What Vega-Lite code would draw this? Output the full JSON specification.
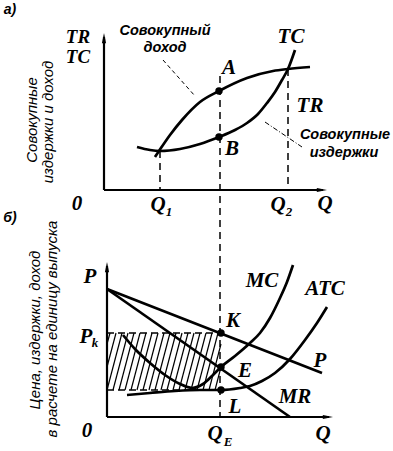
{
 "$schema": "https://vega.github.io/schema/vega-lite/v6.json",
 "width": 393, "height": 451, "padding": 0,
 "autosize": {"type": "fit", "contains": "padding"},
 "background": "white",
 "config": {"view": {"stroke": null}},
 "datasets": {
  "curves": [
   {"id":"TR","x":155,"y":157},{"id":"TR","x":159,"y":151},{"id":"TR","x":170,"y":135},{"id":"TR","x":182,"y":120},{"id":"TR","x":200,"y":102},{"id":"TR","x":219,"y":91},{"id":"TR","x":247,"y":78},{"id":"TR","x":273,"y":71},{"id":"TR","x":288,"y":69},{"id":"TR","x":310,"y":67},
   {"id":"TC","x":137,"y":147},{"id":"TC","x":150,"y":150},{"id":"TC","x":160,"y":151},{"id":"TC","x":180,"y":149},{"id":"TC","x":200,"y":144},{"id":"TC","x":219,"y":137},{"id":"TC","x":235,"y":130},{"id":"TC","x":247,"y":123},{"id":"TC","x":258,"y":114},{"id":"TC","x":267,"y":103},{"id":"TC","x":275,"y":92},{"id":"TC","x":282,"y":80},{"id":"TC","x":288,"y":69},{"id":"TC","x":295,"y":50},
   {"id":"P","x":107,"y":289},{"id":"P","x":322,"y":373},
   {"id":"MR","x":107,"y":289},{"id":"MR","x":290,"y":417},
   {"id":"MC","x":123,"y":335},{"id":"MC","x":135,"y":349},{"id":"MC","x":150,"y":363},{"id":"MC","x":165,"y":375},{"id":"MC","x":180,"y":384},{"id":"MC","x":192,"y":388},{"id":"MC","x":203,"y":384},{"id":"MC","x":212,"y":376},{"id":"MC","x":221,"y":367},{"id":"MC","x":235,"y":356},{"id":"MC","x":250,"y":343},{"id":"MC","x":260,"y":333},{"id":"MC","x":270,"y":318},{"id":"MC","x":280,"y":298},{"id":"MC","x":287,"y":282},{"id":"MC","x":293,"y":265},
   {"id":"ATC","x":127,"y":395},{"id":"ATC","x":150,"y":393},{"id":"ATC","x":175,"y":391},{"id":"ATC","x":200,"y":390},{"id":"ATC","x":221,"y":390},{"id":"ATC","x":240,"y":388},{"id":"ATC","x":250,"y":386},{"id":"ATC","x":262,"y":381},{"id":"ATC","x":275,"y":373},{"id":"ATC","x":290,"y":359},{"id":"ATC","x":305,"y":340},{"id":"ATC","x":317,"y":323},{"id":"ATC","x":327,"y":307}
  ],
  "segs": [
   {"kind":"axis","x":104,"y":37,"x2":104,"y2":190},
   {"kind":"axis","x":104,"y":190,"x2":323,"y2":190},
   {"kind":"axis","x":107,"y":266,"x2":107,"y2":417},
   {"kind":"axis","x":107,"y":417,"x2":329,"y2":417},
   {"kind":"guide","x":160,"y":151,"x2":160,"y2":190},
   {"kind":"guide","x":288,"y":69,"x2":288,"y2":190},
   {"kind":"guide","x":220,"y":76,"x2":220,"y2":417},
   {"kind":"edge","x":107,"y":333,"x2":221,"y2":333},
   {"kind":"edge","x":107,"y":390,"x2":221,"y2":390},
   {"kind":"leader1","x":163,"y":60,"x2":195,"y2":96},
   {"kind":"leader2","x":265,"y":122,"x2":302,"y2":147},
   {"kind":"hatch","x":107,"y":344,"x2":110,"y2":333},
   {"kind":"hatch","x":107,"y":367,"x2":116,"y2":333},
   {"kind":"hatch","x":107,"y":390,"x2":122,"y2":333},
   {"kind":"hatch","x":113,"y":390,"x2":128,"y2":333},
   {"kind":"hatch","x":119,"y":390,"x2":134,"y2":333},
   {"kind":"hatch","x":125,"y":390,"x2":140,"y2":333},
   {"kind":"hatch","x":131,"y":390,"x2":146,"y2":333},
   {"kind":"hatch","x":137,"y":390,"x2":152,"y2":333},
   {"kind":"hatch","x":143,"y":390,"x2":158,"y2":333},
   {"kind":"hatch","x":149,"y":390,"x2":164,"y2":333},
   {"kind":"hatch","x":155,"y":390,"x2":170,"y2":333},
   {"kind":"hatch","x":161,"y":390,"x2":176,"y2":333},
   {"kind":"hatch","x":167,"y":390,"x2":182,"y2":333},
   {"kind":"hatch","x":173,"y":390,"x2":188,"y2":333},
   {"kind":"hatch","x":179,"y":390,"x2":194,"y2":333},
   {"kind":"hatch","x":185,"y":390,"x2":200,"y2":333},
   {"kind":"hatch","x":191,"y":390,"x2":206,"y2":333},
   {"kind":"hatch","x":197,"y":390,"x2":212,"y2":333},
   {"kind":"hatch","x":203,"y":390,"x2":218,"y2":333},
   {"kind":"hatch","x":209,"y":390,"x2":221,"y2":344},
   {"kind":"hatch","x":215,"y":390,"x2":221,"y2":367}
  ],
  "arrows": [
   {"dir":"up","x":104,"y":39},
   {"dir":"right","x":321,"y":190},
   {"dir":"up","x":107,"y":268},
   {"dir":"right","x":327,"y":417}
  ],
  "dots": [
   {"name":"A","x":219,"y":91},{"name":"B","x":219,"y":137},
   {"name":"K","x":221,"y":333},{"name":"E","x":221,"y":367},{"name":"L","x":221,"y":390}
  ],
  "stack": [
   {"t":"TR","x":78,"y":43},{"t":"TC","x":78,"y":63}
  ],
  "serif": [
   {"t":"TC","x":291,"y":43},{"t":"TR","x":310,"y":112},
   {"t":"A","x":229,"y":74},{"t":"B","x":232,"y":155},
   {"t":"Q","x":158,"y":211},{"t":"Q","x":278,"y":211},{"t":"Q","x":325,"y":210},{"t":"0","x":77,"y":210},
   {"t":"P","x":90,"y":283},{"t":"P","x":86,"y":343},{"t":"0","x":87,"y":437},
   {"t":"K","x":233,"y":327},{"t":"E","x":245,"y":377},{"t":"L","x":235,"y":413},
   {"t":"MC","x":262,"y":287},{"t":"ATC","x":325,"y":295},{"t":"P","x":320,"y":367},{"t":"MR","x":295,"y":403},
   {"t":"Q","x":215,"y":440},{"t":"Q","x":323,"y":440}
  ],
  "subs": [
   {"t":"1","x":169,"y":216},{"t":"2","x":289,"y":216},{"t":"k","x":95,"y":347},{"t":"E","x":228,"y":446}
  ],
  "sans": [
   {"g":"tag","t":"а)","x":10,"y":14},
   {"g":"tag","t":"б)","x":10,"y":222},
   {"g":"note","t":"Совокупный","x":165,"y":35},
   {"g":"note","t":"доход","x":165,"y":52},
   {"g":"note","t":"Совокупные","x":345,"y":139},
   {"g":"note","t":"издержки","x":344,"y":157},
   {"g":"ytitle","t":"Совокупные","x":32,"y":120},
   {"g":"ytitle","t":"издержки и доход","x":48,"y":122},
   {"g":"ytitle","t":"Цена, издержки, доход","x":35,"y":330},
   {"g":"ytitle","t":"в расчете на единицу выпуска","x":52,"y":329}
  ]
 },
 "encoding": {
  "x": {"field":"x","type":"quantitative","scale":{"domain":[0,393],"nice":false,"zero":false},"axis":null},
  "y": {"field":"y","type":"quantitative","scale":{"domain":[0,451],"nice":false,"zero":false,"reverse":true},"axis":null}
 },
 "layer": [
  {"data":{"name":"segs"},"transform":[{"filter":"datum.kind=='hatch'"}],
   "mark":{"type":"rule","color":"black","strokeWidth":1.2},
   "encoding":{"x2":{"field":"x2"},"y2":{"field":"y2"}}},
  {"data":{"name":"segs"},"transform":[{"filter":"datum.kind=='edge'"}],
   "mark":{"type":"rule","color":"black","strokeWidth":1.6,"strokeDash":[7,4]},
   "encoding":{"x2":{"field":"x2"},"y2":{"field":"y2"}}},
  {"data":{"name":"segs"},"transform":[{"filter":"datum.kind=='guide'"}],
   "mark":{"type":"rule","color":"black","strokeWidth":1.5,"strokeDash":[7,5]},
   "encoding":{"x2":{"field":"x2"},"y2":{"field":"y2"}}},
  {"data":{"name":"segs"},"transform":[{"filter":"datum.kind=='leader1'"}],
   "mark":{"type":"rule","color":"black","strokeWidth":1,"strokeDash":[4,3]},
   "encoding":{"x2":{"field":"x2"},"y2":{"field":"y2"}}},
  {"data":{"name":"segs"},"transform":[{"filter":"datum.kind=='leader2'"}],
   "mark":{"type":"rule","color":"black","strokeWidth":1,"strokeDash":[5,2,1,2]},
   "encoding":{"x2":{"field":"x2"},"y2":{"field":"y2"}}},
  {"data":{"name":"segs"},"transform":[{"filter":"datum.kind=='axis'"}],
   "mark":{"type":"rule","color":"black","strokeWidth":2.2},
   "encoding":{"x2":{"field":"x2"},"y2":{"field":"y2"}}},
  {"data":{"name":"curves"},
   "mark":{"type":"line","color":"black","strokeWidth":2.7,"interpolate":"monotone"},
   "encoding":{"detail":{"field":"id"}}},
  {"data":{"name":"arrows"},"transform":[{"filter":"datum.dir=='up'"}],
   "mark":{"type":"point","shape":"M0,-1L0.35,0.7L-0.35,0.7Z","filled":true,"color":"black","size":144,"opacity":1}},
  {"data":{"name":"arrows"},"transform":[{"filter":"datum.dir=='right'"}],
   "mark":{"type":"point","shape":"M1,0L-0.7,0.35L-0.7,-0.35Z","filled":true,"color":"black","size":144,"opacity":1}},
  {"data":{"name":"dots"},
   "mark":{"type":"circle","color":"black","size":55,"opacity":1}},
  {"data":{"name":"stack"},
   "mark":{"type":"text","font":"Liberation Serif","fontStyle":"italic","fontWeight":"bold","fontSize":19,"align":"center","baseline":"alphabetic","color":"black"},
   "encoding":{"text":{"field":"t"}}},
  {"data":{"name":"serif"},
   "mark":{"type":"text","font":"Liberation Serif","fontStyle":"italic","fontWeight":"bold","fontSize":21,"align":"center","baseline":"alphabetic","color":"black"},
   "encoding":{"text":{"field":"t"}}},
  {"data":{"name":"subs"},
   "mark":{"type":"text","font":"Liberation Serif","fontStyle":"italic","fontWeight":"bold","fontSize":13,"align":"center","baseline":"alphabetic","color":"black"},
   "encoding":{"text":{"field":"t"}}},
  {"data":{"name":"sans"},"transform":[{"filter":"datum.g=='tag'"}],
   "mark":{"type":"text","font":"Liberation Sans","fontStyle":"italic","fontWeight":"bold","fontSize":14,"align":"center","baseline":"alphabetic","color":"black"},
   "encoding":{"text":{"field":"t"}}},
  {"data":{"name":"sans"},"transform":[{"filter":"datum.g=='note'"}],
   "mark":{"type":"text","font":"Liberation Sans","fontStyle":"italic","fontWeight":"bold","fontSize":14.5,"align":"center","baseline":"alphabetic","color":"black"},
   "encoding":{"text":{"field":"t"}}},
  {"data":{"name":"sans"},"transform":[{"filter":"datum.g=='ytitle'"}],
   "mark":{"type":"text","font":"Liberation Sans","fontStyle":"italic","fontSize":15,"align":"center","baseline":"middle","angle":270,"color":"black"},
   "encoding":{"text":{"field":"t"}}}
 ]
}
